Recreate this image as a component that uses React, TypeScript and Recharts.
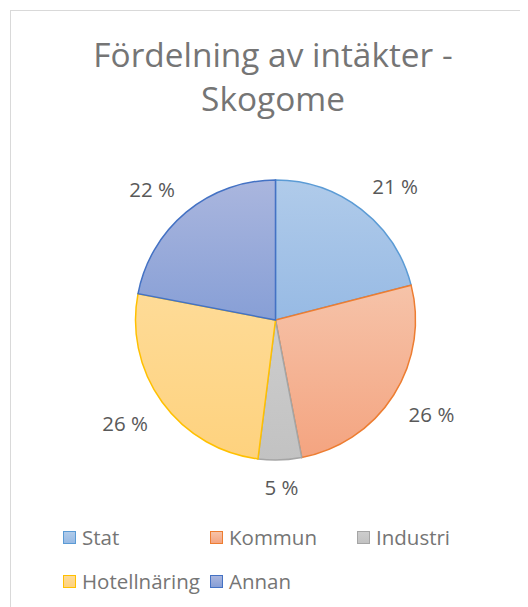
import React from 'react';
import { PieChart, Pie, Cell, Legend } from 'recharts';

const categories = ['Stat', 'Kommun', 'Industri', 'Hotellnäring', 'Annan'];
const shares = [21, 26, 5, 26, 22];

const chartData = categories.map((name, i) => ({ name, value: shares[i] }));

// gradient top / bottom + outline, Office-style
const SLICE_STYLE = [
  { top: '#b0cbea', bottom: '#97bae4', stroke: '#5b9bd5' },
  { top: '#f6c3a9', bottom: '#f4a480', stroke: '#ed7d31' },
  { top: '#cdcdcd', bottom: '#c2c2c2', stroke: '#a5a5a5' },
  { top: '#fedb97', bottom: '#fed27e', stroke: '#ffc000' },
  { top: '#aab6de', bottom: '#879fd6', stroke: '#4472c4' },
];

const FONT = '"Open Sans", Lato, sans-serif';
const RAD = Math.PI / 180;

const clamp = (v: number) => Math.max(-1, Math.min(1, v));

// "outside end": the label box is pushed off the slice edge along the mid ray
const OutsideLabel = ({ cx, cy, midAngle, outerRadius, percent }: any) => {
  const text = `${Math.round(percent * 100)} %`;
  const w = text.length * 11.5;
  const h = 20;
  const cos = Math.cos(-midAngle * RAD);
  const sin = Math.sin(-midAngle * RAD);
  const r = outerRadius + 17.5;
  const x = cx + r * cos + (w / 2) * clamp(cos * 2);
  const y = cy + r * sin + (h / 2) * clamp(sin * 2);
  return (
    <text
      x={x}
      y={y}
      fill="#595959"
      fontFamily={FONT}
      fontSize={20.5}
      textAnchor="middle"
      dominantBaseline="central"
    >
      {text}
    </text>
  );
};

const LegendContent = () => (
  <div style={{ display: 'flex', flexWrap: 'wrap', width: 441 }}>
    {categories.map((name, i) => (
      <div
        key={name}
        style={{
          width: 147,
          height: 44,
          display: 'flex',
          alignItems: 'center',
          fontFamily: FONT,
          fontSize: 20.5,
          color: '#757575',
          whiteSpace: 'nowrap',
        }}
      >
        <span
          style={{
            display: 'inline-block',
            flex: 'none',
            width: 11,
            height: 11,
            border: `1.5px solid ${SLICE_STYLE[i].stroke}`,
            background: `linear-gradient(${SLICE_STYLE[i].top}, ${SLICE_STYLE[i].bottom})`,
            marginRight: 6,
          }}
        />
        {name}
      </div>
    ))}
  </div>
);

export default function App() {
  return (
    <div style={{ position: 'relative', width: 520, height: 599, overflow: 'hidden', background: '#fff' }}>
      <div
        style={{
          position: 'absolute',
          left: 2,
          top: 2,
          width: 560,
          height: 640,
          border: '1.5px solid #d9d9d9',
        }}
      />
      <div
        style={{
          position: 'absolute',
          left: 0,
          top: 24,
          width: 530,
          textAlign: 'center',
          fontFamily: FONT,
          fontSize: 33.4,
          lineHeight: '44px',
          color: '#757575',
        }}
      >
        Fördelning av intäkter -<br />Skogome
      </div>
      <div style={{ position: 'absolute', left: 0, top: 0 }}>
        <PieChart width={520} height={599} margin={{ top: 0, right: 0, bottom: 0, left: 0 }}>
          <defs>
            {SLICE_STYLE.map((s, i) => (
              <linearGradient key={i} id={`slice-${i}`} x1="0" y1="0" x2="0" y2="1">
                <stop offset="0%" stopColor={s.top} />
                <stop offset="100%" stopColor={s.bottom} />
              </linearGradient>
            ))}
          </defs>
          <Pie
            data={chartData}
            dataKey="value"
            nameKey="name"
            cx={267.5}
            cy={312}
            outerRadius={140}
            startAngle={90}
            endAngle={-270}
            label={OutsideLabel}
            labelLine={false}
            isAnimationActive={false}
          >
            {chartData.map((entry, i) => (
              <Cell
                key={entry.name}
                fill={`url(#slice-${i})`}
                stroke={SLICE_STYLE[i].stroke}
                strokeWidth={1.5}
              />
            ))}
          </Pie>
          <Legend
            content={LegendContent}
            wrapperStyle={{ position: 'absolute', left: 55, top: 507, width: 441 }}
          />
        </PieChart>
      </div>
    </div>
  );
}
